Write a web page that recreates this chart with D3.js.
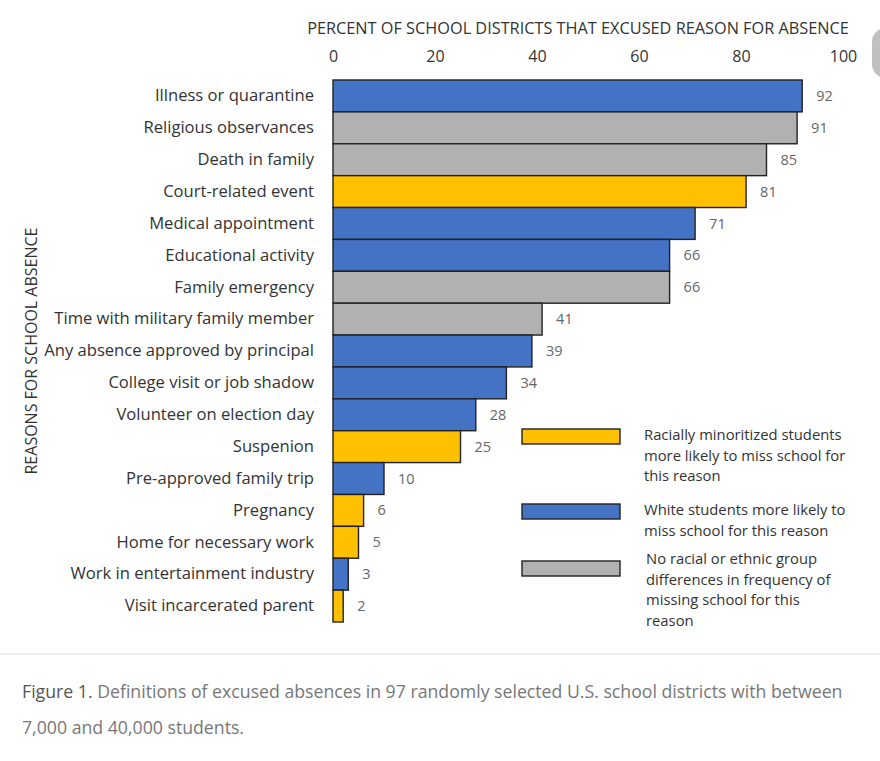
<!DOCTYPE html>
<html>
<head>
<meta charset="utf-8">
<script src="https://cdn.jsdelivr.net/npm/d3@7/dist/d3.min.js"></script>
<style>
  body { margin:0; background:#fff; }
  svg text { font-family:"Open Sans", sans-serif; }
</style>
</head>
<body>
<svg id="chart"></svg>
<script>
//reasons, top to bottom
var reasons = ["Illness or quarantine","Religious observances","Death in family",
    "Court-related event","Medical appointment","Educational activity","Family emergency",
    "Time with military family member","Any absence approved by principal",
    "College visit or job shadow","Volunteer on election day","Suspenion",
    "Pre-approved family trip","Pregnancy","Home for necessary work",
    "Work in entertainment industry","Visit incarcerated parent"];

//percent of districts excusing each reason
var percents = [92,91,85,81,71,66,66,41,39,34,28,25,10,6,5,3,2];

//which group is more likely to miss for the reason
var groups = ["white","none","none","minority","white","white","none","none","white",
    "white","white","minority","white","minority","minority","white","minority"];

var xTicks = [0,20,40,60,80,100];

var legendKeys = ["minority","white","none"];
var legendLines = [
    ["Racially minoritized students","more likely to miss school for","this reason"],
    ["White students more likely to","miss school for this reason"],
    ["No racial or ethnic group","differences in frequency of","missing school for this","reason"]
];

var colors = {minority:"#FFC000", white:"#4472C4", none:"#B1B1B1"};

var screen = {width:880, height:761};
var margins = {top:80, left:333, right:37};
var graph = {width:screen.width-margins.left-margins.right, height:542};

var svg = d3.select("#chart")
    .attr("width",screen.width)
    .attr("height",screen.height);

var xScale = d3.scaleLinear()
    .domain([0,100])
    .range([0,graph.width]);

var yScale = d3.scaleBand()
    .domain(reasons)
    .range([0,graph.height])
    .padding(0);

var g = svg.append("g")
    .attr("transform","translate("+margins.left+","+margins.top+")");

//bars
g.selectAll("rect.bar")
    .data(reasons)
    .enter()
    .append("rect")
    .attr("class","bar")
    .attr("x",0)
    .attr("y",function(d){ return yScale(d); })
    .attr("width",function(d,i){ return xScale(percents[i]); })
    .attr("height",yScale.bandwidth())
    .attr("fill",function(d,i){ return colors[groups[i]]; })
    .attr("stroke","#222")
    .attr("stroke-width",1.4);

//value labels
g.selectAll("text.val")
    .data(reasons)
    .enter()
    .append("text")
    .attr("class","val")
    .attr("x",function(d,i){ return xScale(percents[i])+14; })
    .attr("y",function(d){ return yScale(d)+yScale.bandwidth()/2; })
    .attr("dy","0.35em")
    .attr("font-size",14.5)
    .attr("fill","#666")
    .text(function(d,i){ return percents[i]; });

//top axis
var xAxis = d3.axisTop(xScale)
    .tickValues(xTicks)
    .tickSize(0)
    .tickPadding(0);
var xg = svg.append("g")
    .attr("transform","translate("+margins.left+",62)")
    .call(xAxis);
xg.select(".domain").remove();
xg.selectAll("text")
    .attr("font-size",16)
    .attr("fill","#333")
    .attr("font-family","'Open Sans', sans-serif");

//left axis (category labels)
var yAxis = d3.axisLeft(yScale).tickSize(0).tickPadding(19);
var yg = g.append("g").call(yAxis);
yg.select(".domain").remove();
yg.selectAll("text")
    .attr("font-size",16.6)
    .attr("fill","#333")
    .attr("font-family","'Open Sans', sans-serif");

//axis titles
svg.append("text")
    .attr("x",578)
    .attr("y",34)
    .attr("text-anchor","middle")
    .attr("font-size",16.3)
    .attr("fill","#333")
    .text("PERCENT OF SCHOOL DISTRICTS THAT EXCUSED REASON FOR ABSENCE");

svg.append("text")
    .attr("transform","translate(37,351) rotate(-90)")
    .attr("text-anchor","middle")
    .attr("font-size",16)
    .attr("fill","#333")
    .text("REASONS FOR SCHOOL ABSENCE");

//legend
var legendY = [429,504,561];
var legend = svg.append("g");
legendKeys.forEach(function(k,i)
{
    legend.append("rect")
        .attr("x",522).attr("y",legendY[i])
        .attr("width",98).attr("height",15)
        .attr("fill",colors[k])
        .attr("stroke","#222")
        .attr("stroke-width",1.4);
    var t = legend.append("text")
        .attr("x",644 + (i==2 ? 2 : 0))
        .attr("y",legendY[i]+11 - (i==2 ? 8 : 0))
        .attr("font-size",14.8)
        .attr("fill","#333");
    legendLines[i].forEach(function(line,j)
    {
        t.append("tspan")
            .attr("x",644 + (i==2 ? 2 : 0))
            .attr("dy",j==0 ? 0 : 20.5)
            .text(line);
    });
});

//separator and caption
svg.append("line")
    .attr("x1",0).attr("x2",screen.width)
    .attr("y1",654).attr("y2",654)
    .attr("stroke","#ebebeb")
    .attr("stroke-width",1.5);

var cap = svg.append("text")
    .attr("x",22).attr("y",698)
    .attr("font-size",17.7)
    .attr("fill","#777");
cap.append("tspan").attr("fill","#555").text("Figure 1.");
cap.append("tspan").text(" Definitions of excused absences in 97 randomly selected U.S. school districts with between");
svg.append("text")
    .attr("x",22).attr("y",734)
    .attr("font-size",17.7)
    .attr("fill","#777")
    .text("7,000 and 40,000 students.");

//partial button at right edge
svg.append("rect")
    .attr("x",872).attr("y",28)
    .attr("width",30).attr("height",50)
    .attr("rx",14)
    .attr("fill","#c0c0c0");
</script>
</body>
</html>
